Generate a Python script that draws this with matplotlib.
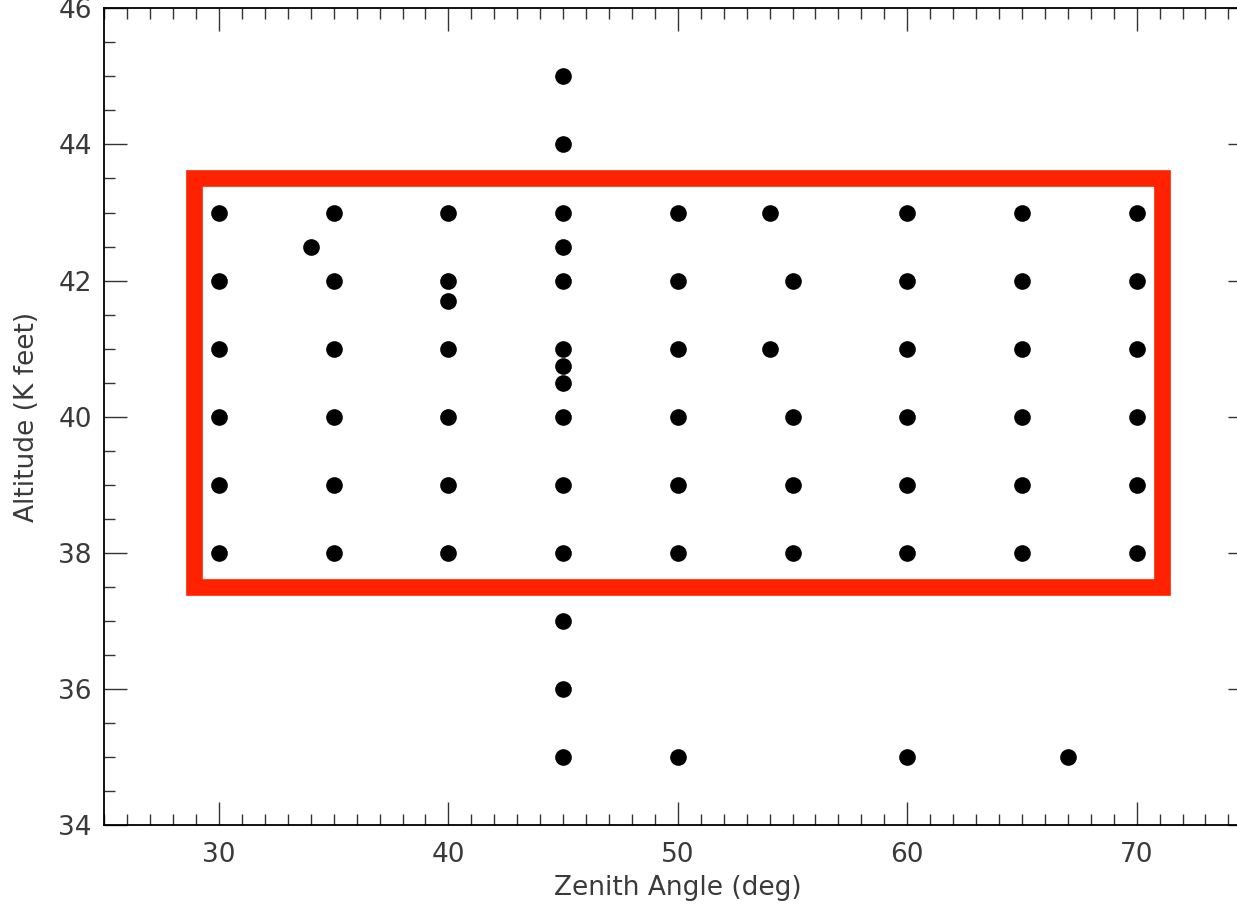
import matplotlib
matplotlib.use('Agg')
import matplotlib.pyplot as plt
from matplotlib.patches import Rectangle
from matplotlib.ticker import MultipleLocator

# zenith angle (deg) and altitude (K feet) of each sampled point
zenith = [30, 30, 30, 30, 30, 30,
          34,
          35, 35, 35, 35, 35, 35,
          40, 40, 40, 40, 40, 40, 40,
          45, 45, 45, 45, 45, 45, 45, 45, 45, 45, 45, 45, 45, 45,
          50, 50, 50, 50, 50, 50, 50,
          54, 54,
          55, 55, 55, 55,
          60, 60, 60, 60, 60, 60, 60,
          65, 65, 65, 65, 65, 65,
          67,
          70, 70, 70, 70, 70, 70]
altitude = [38, 39, 40, 41, 42, 43,
            42.5,
            38, 39, 40, 41, 42, 43,
            38, 39, 40, 41, 41.7, 42, 43,
            35, 36, 37, 38, 39, 40, 40.5, 40.75, 41, 42, 42.5, 43, 44, 45,
            35, 38, 39, 40, 41, 42, 43,
            41, 43,
            38, 39, 40, 42,
            35, 38, 39, 40, 41, 42, 43,
            38, 39, 40, 41, 42, 43,
            35,
            38, 39, 40, 41, 42, 43]

# highlighted region
box_zenith = [28.9, 71.1]
box_altitude = [37.5, 43.5]

xlim = (25, 75)
ylim = (34, 46)

plt.rcParams['font.family'] = ['DejaVu Sans']

fig = plt.figure(figsize=(12.37, 9.10), dpi=100)
# axes run past the right edge of the image, as in the original
ax = fig.add_axes([0.0843, 0.0931, 0.9273, 0.8978])

ax.add_patch(Rectangle((box_zenith[0], box_altitude[0]),
                       box_zenith[1] - box_zenith[0],
                       box_altitude[1] - box_altitude[0],
                       fill=False, edgecolor='#ff2200', linewidth=12,
                       joinstyle='miter', zorder=2))
ax.plot(zenith, altitude, 'o', color='black', markersize=12,
        markeredgewidth=0, zorder=3)

ax.set_xlim(*xlim)
ax.set_ylim(*ylim)
ax.xaxis.set_major_locator(MultipleLocator(10))
ax.xaxis.set_minor_locator(MultipleLocator(1))
ax.yaxis.set_major_locator(MultipleLocator(2))
ax.yaxis.set_minor_locator(MultipleLocator(0.5))

txt = '#3a3a3a'
ax.tick_params(which='both', direction='in', top=True, right=True,
               width=1.0, color='#333333', labelsize=19, labelcolor=txt)
ax.tick_params(which='major', length=16.5)
ax.tick_params(which='minor', length=8)
ax.tick_params(axis='x', pad=12)
ax.tick_params(axis='y', pad=9)
for s in ax.spines.values():
    s.set_linewidth(1.3)

ax.set_xlabel('Zenith Angle (deg)', fontsize=19, color=txt, labelpad=5)
ax.set_ylabel('Altitude (K feet)', fontsize=19, color=txt, labelpad=13)

fig.savefig('out.png', dpi=100)
